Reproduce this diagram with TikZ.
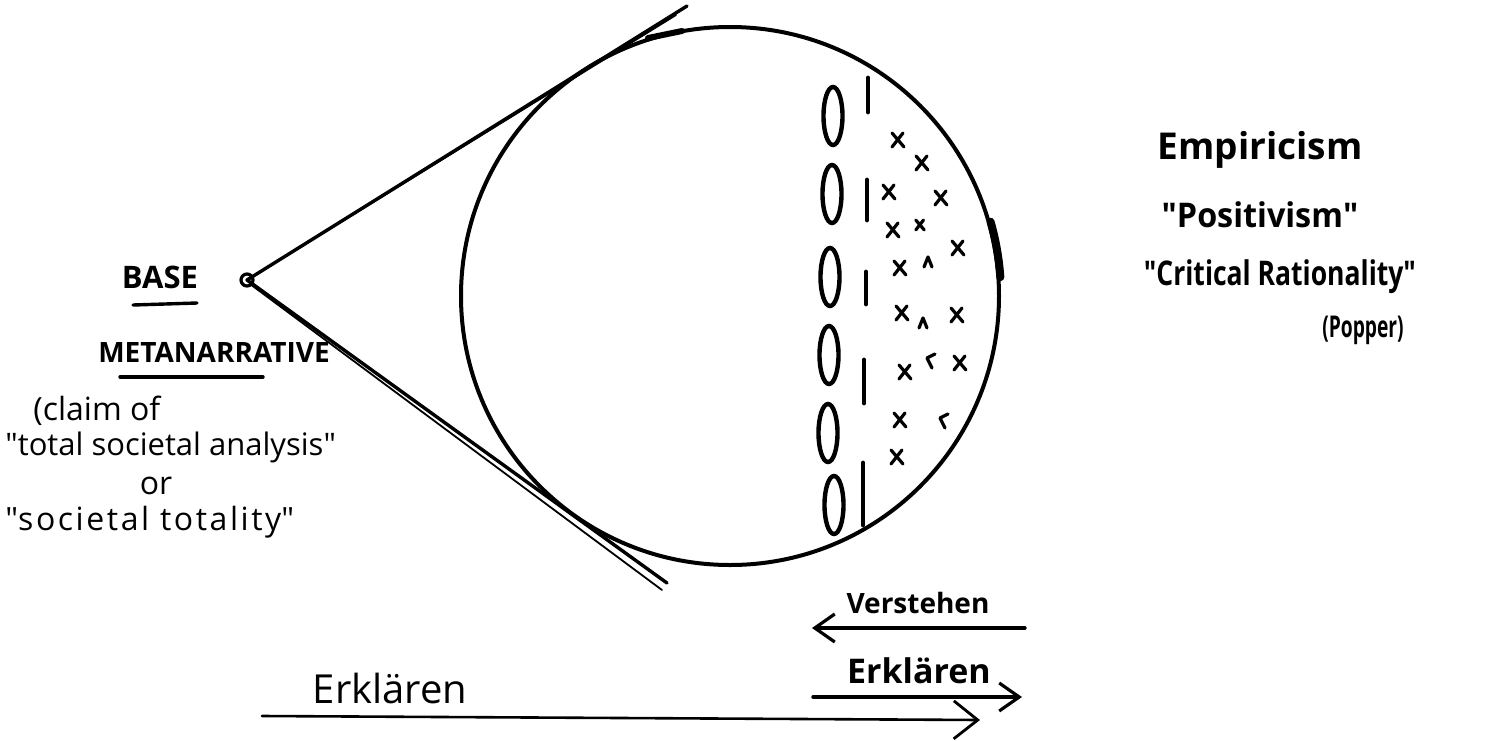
\documentclass[tikz,border=0pt]{standalone}
\usepackage{fontspec}
\usepackage{graphicx}
\setmainfont{Open Sans}
\usetikzlibrary{arrows.meta}
\newcommand{\qq}{\textquotedbl}
\begin{document}
\begin{tikzpicture}[x=0.5pt,y=-0.5pt,
  ink/.style={line width=1.7pt, line cap=round, line join=round},
  thinink/.style={line width=0.9pt, line cap=round, line join=round},
  marker/.style={inner sep=0pt, font=\bfseries},
  pen/.style={inner sep=0pt},
  oval/.style={line width=2.2pt},
  bar/.style={line width=2.4pt, line cap=round},
  barb/.style={-{Straight Barb[length=10pt,width=14pt,line width=1.6pt]}},
  bigbarb/.style={-{Straight Barb[length=12pt,width=19pt,line width=1.4pt]}},
  xcross/.pic={\draw[line width=1.6pt, line cap=round] (-6,-7)--(6,7) (-6,7)--(5,-7);},
  caret/.pic={\draw[line width=1.6pt, line cap=round, line join=round] (-4,5)--(0,-5)--(4,5);},
  hook/.pic={\draw[line width=1.6pt, line cap=round, line join=round] (6,-6)--(-2,-2)--(3,8);}
]
\useasboundingbox (0,0) rectangle (1501,740);

% circle (the "eye")
\node[draw, circle, line width=2pt, minimum size=269pt, inner sep=0pt] (eye) at (730,296) {};
\draw[line width=4pt, line cap=round] (eye.4) arc[start angle=-4, end angle=-16, radius=269];
\draw[line width=3pt, line cap=round] (648,38) -- (682,31);

% apex and tangents
\coordinate (apex) at (247,280);
\coordinate (topend) at (687,6);
\coordinate (topend2) at (676,15);
\coordinate (botend) at (667,583);
\coordinate (botend2) at (662,590);
\draw[ink] (topend) -- (apex) -- (botend);
\draw[thinink] (apex) -- (topend2);
\draw[thinink] ([shift={(3,4)}]apex) -- (botend2);
\draw[line width=1.6pt] (apex) circle[radius=6];

% ovals
\foreach \y/\x in {116/833, 194/832, 277/830, 355/829, 433/828, 505/834}
  \draw[oval] (\x,\y) ellipse[x radius=9.5, y radius=29];

% bars
\draw[bar] (868,78) -- (868,112);
\draw[bar] (867,180) -- (867,220);
\draw[bar] (866,272) -- (866,304);
\draw[bar] (864,360) -- (864,403);
\draw[bar] (863,463) -- (863,525);

% marks
\foreach \x/\y in {898/140, 922/163, 889/192, 941/198, 893/230, 958/248, 900/268,
                   902/313, 957/315, 905/372, 960/363, 900/420, 897/457}
  \pic at (\x,\y) {xcross};
\pic[scale=0.7] at (920,225) {xcross};
\pic at (928,262) {caret};
\pic at (923,323) {caret};
\pic at (929,360) {hook};
\pic at (942,420) {hook};

% left texts
\node[marker, font=\bfseries\fontsize{15.5}{18}\selectfont] (base) at (160,277) {BASE};
\coordinate (bu1) at (133,305); \coordinate (bu2) at (197,303);
\draw[ink] (bu1) -- (bu2);
\node[marker, font=\bfseries\fontsize{14}{16}\selectfont] (meta) at (214,352) {METANARRATIVE};
\coordinate (mu1) at (120,377); \coordinate (mu2) at (263,377);
\draw[ink] (mu1) -- (mu2);
\node[pen, anchor=west, font=\fontsize{16}{19}\selectfont] (claim) at (33,411) {(claim of};
\node[pen, anchor=west, font=\fontsize{15.5}{19}\selectfont] (total) at (5,447) {\qq total societal analysis\qq};
\node[pen, font=\fontsize{16}{19}\selectfont] (or) at (156,486) {or};
\node[pen, anchor=west, font=\fontsize{16}{19}\selectfont] (soc) at (5,522) {\addfontfeatures{LetterSpace=8}\qq societal totality\qq};

% right texts
\node[marker, font=\bfseries\fontsize{18.5}{22}\selectfont] (emp) at (1260,150) {Empiricism};
\node[marker, font=\bfseries\fontsize{17}{20}\selectfont] (pos) at (1260,215) {\scalebox{0.95}[1]{\qq Positivism\qq}};
\node[marker, font=\bfseries\fontsize{17}{20}\selectfont] (crit) at (1280,277) {\scalebox{0.78}[1]{\qq Critical Rationality\qq}};
\node[marker, font=\bfseries\fontsize{12}{14}\selectfont] (pop) at (1363,330) {\scalebox{0.8}[1.25]{(Popper)}};

% bottom arrows
\node[marker, font=\bfseries\fontsize{14}{17}\selectfont] (verst) at (918,603) {Verstehen};
\coordinate (v1) at (1025,628); \coordinate (v2) at (812,628);
\draw[ink, barb] (v1) -- (v2);
\node[marker, font=\bfseries\fontsize{17}{20}\selectfont] (erk1) at (919,671) {Erklären};
\coordinate (e1) at (813,697); \coordinate (e2) at (1022,697);
\draw[ink, barb] (e1) -- (e2);
\node[pen, font=\fontsize{20}{24}\selectfont] (erk2) at (390,688) {Erklären};
\coordinate (l1) at (262,716); \coordinate (l2) at (980,720);
\draw[ink, line width=1.3pt, bigbarb] (l1) -- (l2);
\end{tikzpicture}
\end{document}
